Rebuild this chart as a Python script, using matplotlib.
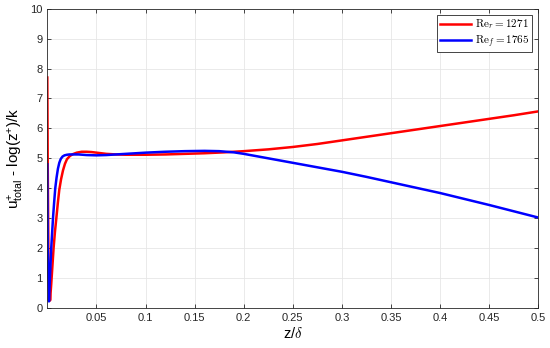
import numpy as np
import matplotlib.pyplot as plt
from matplotlib.font_manager import FontProperties

plt.rcParams['font.family'] = ['Liberation Sans', 'DejaVu Sans']
plt.rcParams['mathtext.fontset'] = 'custom'
plt.rcParams['mathtext.rm'] = 'Liberation Sans'
plt.rcParams['mathtext.it'] = 'Liberation Sans:italic'

# red: Re_r = 1271
z_r = [0.0, 0.0004, 0.0012, 0.0028, 0.004, 0.0052, 0.0064, 0.0078, 0.0092, 0.0107, 0.0122,
       0.014, 0.016, 0.018, 0.020, 0.023, 0.026, 0.030, 0.035, 0.040, 0.045, 0.050,
       0.060, 0.070, 0.080, 0.090, 0.100, 0.120, 0.140, 0.160, 0.180, 0.200, 0.225,
       0.250, 0.275, 0.300, 0.325, 0.350, 0.375, 0.400, 0.425, 0.450, 0.475, 0.500]
u_r = [7.7, 5.0, 1.5, 0.25, 0.8, 1.4, 2.0, 2.55, 3.0, 3.5, 3.95,
       4.3, 4.6, 4.82, 4.97, 5.08, 5.14, 5.19, 5.22, 5.22, 5.21, 5.19,
       5.15, 5.13, 5.12, 5.12, 5.12, 5.13, 5.15, 5.17, 5.2, 5.24, 5.3,
       5.38, 5.48, 5.6, 5.72, 5.84, 5.96, 6.08, 6.2, 6.32, 6.44, 6.57]

# blue: Re_f = 1765
z_b = [0.0, 0.0004, 0.0017, 0.0028, 0.004, 0.0049, 0.0058, 0.0069, 0.0081, 0.0094, 0.0108,
       0.0122, 0.0137, 0.0155, 0.0175, 0.020, 0.0225, 0.027, 0.032, 0.040, 0.050, 0.060,
       0.070, 0.080, 0.100, 0.120, 0.140, 0.160, 0.175, 0.190, 0.200, 0.225, 0.250,
       0.275, 0.300, 0.325, 0.350, 0.375, 0.400, 0.425, 0.450, 0.475, 0.500]
u_b = [4.8, 2.0, 0.22, 1.1, 2.0, 2.5, 3.0, 3.5, 4.0, 4.35, 4.65,
       4.85, 4.98, 5.06, 5.1, 5.12, 5.13, 5.13, 5.13, 5.11, 5.1, 5.11,
       5.13, 5.15, 5.19, 5.22, 5.24, 5.25, 5.24, 5.2, 5.15, 5.0, 4.85,
       4.7, 4.55, 4.38, 4.2, 4.02, 3.84, 3.64, 3.44, 3.23, 3.02]

fig = plt.figure(figsize=(5.5, 3.48), dpi=100)
ax = fig.add_axes([0.086, 0.115, 0.893, 0.86])

ax.plot(z_r, u_r, color='red', lw=1.8, label=r'$\mathrm{Re}_r = 1271$')
ax.plot(z_b, u_b, color='blue', lw=1.8, label=r'$\mathrm{Re}_f = 1765$')

ax.set_xlim(0, 0.5)
ax.set_ylim(0, 10)
ax.set_xticks([0.05, 0.1, 0.15, 0.2, 0.25, 0.3, 0.35, 0.4, 0.45, 0.5])
ax.set_xticklabels(['0.05', '0.1', '0.15', '0.2', '0.25', '0.3', '0.35', '0.4', '0.45', '0.5'])
ax.set_yticks(range(0, 11))
ax.grid(True, color='#e6e6e6', lw=0.6)
ax.tick_params(direction='in', top=True, right=True, labelsize=8, colors='#262626',
               length=3, width=0.6)
for s in ax.spines.values():
    s.set_color('#262626')
    s.set_linewidth(0.6)

ax.set_xlabel(r'z/$\delta$', fontsize=10.5, labelpad=2, math_fontfamily='cm')
ax.set_ylabel(r'u$^{+}_{\mathrm{total}}$ - log(z$^{+}$)/k', fontsize=11, labelpad=3)

leg = ax.legend(loc='upper right', prop=FontProperties(size=8, math_fontfamily='cm'),
                fancybox=False, framealpha=1, edgecolor='#262626', handlelength=2.8,
                handletextpad=0.4, borderpad=0.25, labelspacing=0.15, borderaxespad=0.55)
leg.get_frame().set_linewidth(0.6)

fig.savefig('out.png')
